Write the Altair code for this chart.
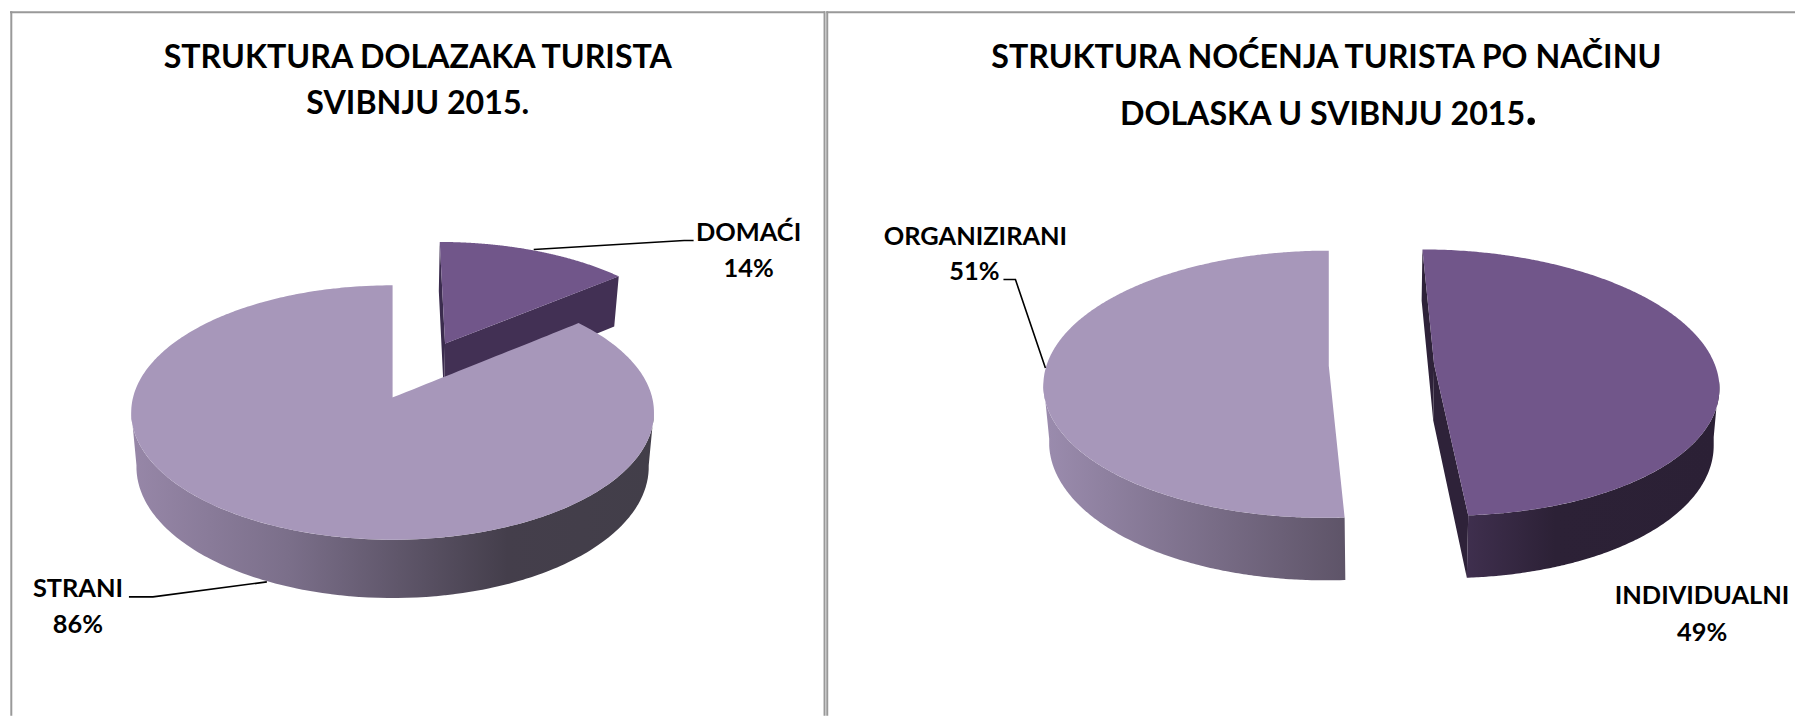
import numpy as np
import pandas as pd
import altair as alt

# ---- data ----
left_names = ["DOMAĆI", "STRANI"]
left_shares = [14, 86]
right_names = ["INDIVIDUALNI", "ORGANIZIRANI"]
right_shares = [49, 51]
titles_left = ["STRUKTURA DOLAZAKA TURISTA", "SVIBNJU 2015."]
titles_right = ["STRUKTURA NOĆENJA TURISTA PO NAČINU", "DOLASKA U SVIBNJU 2015"]

# ---- layout (pixels of the 1804x724 page) ----
PAGE_W, PAGE_H = 1804, 724
M = 8
xscale = alt.Scale(domain=[M, PAGE_W - M], nice=False, zero=False)
yscale = alt.Scale(domain=[PAGE_H - M, M], nice=False, zero=False)
X = lambda f: alt.X(f, type="quantitative", scale=xscale, axis=None)
Y = lambda f: alt.Y(f, type="quantitative", scale=yscale, axis=None)

LEFT = dict(cx=392.8, cy=397.5, R=259.7, ry=125.5, k=0.118, d=54.0, s=0.98, shear=0.0)
RIGHT = dict(cx=1381.6, cy=365.0, R=281.0, ry=130.9, k=0.138, d=56.1, s=0.983, shear=-5.2)


def project(p, u, v, lower=False):
    w = 1.0 / (1.0 + p["k"] * v)
    s = p["s"] if lower else 1.0
    d = p["d"] if lower else 0.0
    sx = p["cx"] + p["shear"] * v + s * p["R"] * u * w
    sy = p["cy"] + w * (d - s * p["ry"] * v)
    return sx, sy


def arc(p, a0, a1, off, lower=False, n=90):
    th = np.radians(np.linspace(a0, a1, n))
    return [project(p, off[0] + np.sin(t), off[1] + np.cos(t), lower) for t in th]


def offset(a0, a1, e):
    m = np.radians((a0 + a1) / 2)
    return (e * np.sin(m), e * np.cos(m))


def polygon_rows(pts):
    """Turn a closed outline into x / y / y2 rows for an area mark."""
    pts = np.array(pts, dtype=float)
    n = len(pts)
    i0, i1 = int(np.argmin(pts[:, 0])), int(np.argmax(pts[:, 0]))
    fwd = [pts[(i0 + j) % n] for j in range((i1 - i0) % n + 1)]
    bwd = [pts[(i0 - j) % n] for j in range((i0 - i1) % n + 1)]
    def mono(c):
        c = np.array(c)
        xs = np.maximum.accumulate(c[:, 0]) + np.arange(len(c)) * 1e-4
        return xs, c[:, 1]
    ax, ay = mono(fwd)
    bx, by = mono(bwd)
    xs = np.unique(np.concatenate([ax, bx]))
    return pd.DataFrame({"x": xs, "y": np.interp(xs, ax, ay), "y2": np.interp(xs, bx, by)})


def poly(pts, fill):
    return alt.Chart(polygon_rows(pts)).mark_area(fill=fill, opacity=1).encode(
        x=X("x"), y=Y("y"), y2=alt.Y2("y2"))


def grad(stops):
    return alt.Gradient(gradient="linear", x1=0, x2=1, y1=0, y2=0,
                        stops=[alt.GradientStop(offset=o, color=c) for o, c in stops])


def wall(p, a0, a1, off, fill):
    top = arc(p, a0, a1, off)
    bot = arc(p, a0, a1, off, lower=True)
    return poly(top + bot[::-1], fill)


def cut_face(p, ang, off, fill):
    t = np.radians(ang)
    o0 = (off[0], off[1])
    o1 = (off[0] + np.sin(t), off[1] + np.cos(t))
    return poly([project(p, *o0), project(p, *o1),
                 project(p, *o1, lower=True), project(p, *o0, lower=True)], fill)


def face(p, a0, a1, off, fill):
    return poly([project(p, *off)] + arc(p, a0, a1, off, n=240), fill)


layers = []

# ---- left pie ----
a_dom = 360.0 * left_shares[0] / sum(left_shares)
off_dom = offset(0, a_dom, 0.5)
off_str = (0.0, 0.0)
layers += [
    cut_face(LEFT, 0, off_dom, "#3b2c4e"),
    cut_face(LEFT, a_dom, off_dom, "#423054"),
    face(LEFT, 0, a_dom, off_dom, "#71568a"),
    wall(LEFT, 96, 264, off_str, grad([(0, "#9787a8"), (0.3, "#7b6f8a"), (0.72, "#443e4b"), (1, "#423e49")])),
    face(LEFT, a_dom, 360, off_str, "#a797ba"),
]

# ---- right pie ----
a_ind = 360.0 * right_shares[0] / sum(right_shares)
off_ind = offset(0, a_ind, 0.19)
off_org = offset(a_ind, 360, 0.19)
layers += [
    cut_face(RIGHT, 0, off_ind, "#2e2239"),
    cut_face(RIGHT, a_ind, off_ind, "#2e2239"),
    wall(RIGHT, 97, a_ind, off_ind, grad([(0, "#3f2f4e"), (0.35, "#2c2136"), (1, "#2b2035")])),
    face(RIGHT, 0, a_ind, off_ind, "#71568a"),
    wall(RIGHT, a_ind, 263, off_org, grad([(0, "#9b8cae"), (1, "#5e5468")])),
    face(RIGHT, a_ind, 360, off_org, "#a797ba"),
]

# ---- leader lines ----
leaders = [
    [(534, 249.5), (684.5, 240.5), (694, 240.5)],
    [(267, 582), (153, 597), (129, 597)],
    [(1046, 368), (1016, 279.5), (1004, 279.5)],
]
for seg in leaders:
    df = pd.DataFrame(seg, columns=["x", "y"]).assign(o=range(len(seg)))
    layers.append(alt.Chart(df).mark_line(color="#000000", strokeWidth=1.6).encode(
        x=X("x"), y=Y("y"), order="o:Q"))

# ---- panel borders ----
borders = [
    ("h", 12, 10, 825.5), ("h", 12, 826.7, PAGE_W - M),
    ("v", 11.3, 11, PAGE_H - M), ("v", 825, 11, PAGE_H - M), ("v", 827.7, 11, PAGE_H - M),
]
for kind, at, a, b in borders:
    if kind == "h":
        df = pd.DataFrame({"x": [a], "x2": [b], "y": [at]})
        enc = dict(x=X("x"), x2=alt.X2("x2"), y=Y("y"))
    else:
        df = pd.DataFrame({"x": [at], "y": [a], "y2": [b]})
        enc = dict(x=X("x"), y=Y("y"), y2=alt.Y2("y2"))
    layers.append(alt.Chart(df).mark_rule(color="#999999", strokeWidth=2).encode(**enc))

# ---- text ----
FONT = "Lato"
TS, LS = 32.2, 25.4
text_rows = [
    (titles_left[0], 418, 58, TS, "center", "middle"), (titles_left[1], 418, 104, TS, "center", "middle"),
    (titles_right[0], 1327, 58, TS, "center", "middle"),
    (titles_right[1], 1526, 124.5, TS, "right", "alphabetic"), (".", 1526, 124.5, 50, "left", "alphabetic"),
    (left_names[0], 749, 232.5, LS, "center", "middle"), (f"{left_shares[0]}%", 749, 268.5, LS, "center", "middle"),
    (left_names[1], 78, 589.5, LS, "center", "middle"), (f"{left_shares[1]}%", 78, 625.5, LS, "center", "middle"),
    (right_names[1], 976, 236.5, LS, "center", "middle"), (f"{right_shares[1]}%", 975, 272, LS, "center", "middle"),
    (right_names[0], 1703, 596.5, LS, "center", "middle"), (f"{right_shares[0]}%", 1703, 633.5, LS, "center", "middle"),
]
for label, x, y, size, align, base in text_rows:
    df = pd.DataFrame({"x": [x], "y": [y], "t": [label]})
    layers.append(alt.Chart(df).mark_text(
        font=FONT, fontWeight="bold", fontSize=size, color="#000000",
        align=align, baseline=base).encode(x=X("x"), y=Y("y"), text="t:N"))

chart = alt.layer(*layers).properties(
    width=PAGE_W - 2 * M, height=PAGE_H - 2 * M, padding=0, background="#ffffff"
).configure_view(stroke=None)

chart.save("out.html", embed_options={"renderer": "svg", "actions": False})
